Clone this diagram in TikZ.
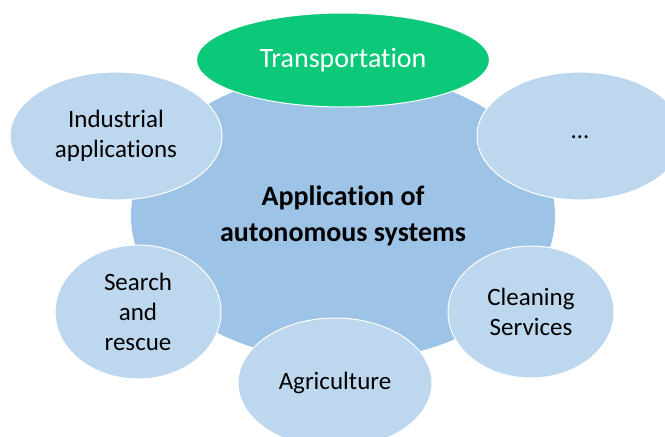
\documentclass[tikz,border=0pt]{standalone}
\usepackage{fontspec}
\setmainfont{Carlito}[Ligatures=CommonOff]
\usetikzlibrary{shapes.geometric}
\definecolor{hubblue}{RGB}{157,195,230}
\definecolor{leafblue}{RGB}{189,215,238}
\definecolor{transgreen}{RGB}{12,201,122}
\tikzset{
  hub/.style={ellipse,fill=hubblue,inner sep=0pt,align=center,
    font=\bfseries\fontsize{28}{36}\selectfont},
  leaf/.style={ellipse,fill=leafblue,draw=white,line width=1pt,inner sep=0pt,
    align=center,font=\fontsize{25}{30}\selectfont},
  focus/.style={leaf,fill=transgreen,text=white,font=\fontsize{28}{32}\selectfont},
}
\begin{document}
\begin{tikzpicture}[x=1pt,y=-1pt]
  \useasboundingbox (0,0) rectangle (665,437);
  % central topic
  \node[hub,minimum width=424pt,minimum height=290pt] (hub) at (343,216)
    {Application of\\autonomous systems};
  % application areas round it: name/x/y/width/height/text
  \foreach \name/\xc/\yc/\ewid/\ehgt/\txt in {
      indus/116/136/212/128/{Industrial\\applications},
      more/580/136/206/128/{\raisebox{-6pt}{\dots}},
      search/138/312/166/134/{Search\\and\\rescue},
      agri/335/383/194/130/{Agriculture},
      clean/531/312/166/132/{Cleaning\\Services}} {
    \node[leaf,minimum width=\ewid pt,minimum height=\ehgt pt] (\name) at (\xc,\yc) {\txt};
  }
  \node[focus,minimum width=293pt,minimum height=94pt] (trans) at (343,60) {Transportation};
\end{tikzpicture}
\end{document}
